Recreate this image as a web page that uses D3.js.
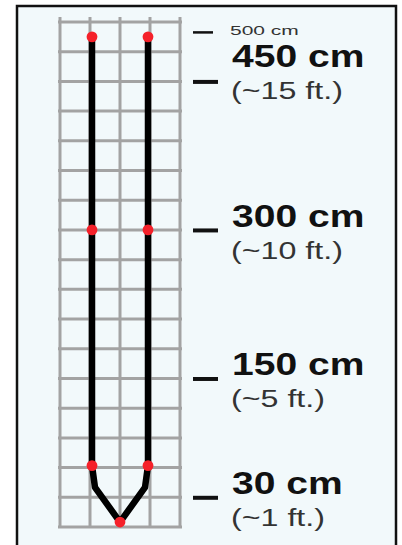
<!DOCTYPE html>
<html>
<head>
<meta charset="utf-8">
<script src="https://cdn.jsdelivr.net/npm/d3@7"></script>
<style>
  html, body { margin: 0; padding: 0; background: #ffffff; }
  svg { display: block; }
</style>
</head>
<body>
<svg id="chart" width="402" height="545"></svg>
<script>
// ---- data (cm) ----
const gridCols = [0, 30, 60, 90, 120];
const gridRows = [0, 30, 60, 90, 120, 150, 180, 210, 240, 270, 300, 330, 360, 390, 420, 450, 480, 510];

const pathX = [32, 32, 32, 35, 60, 85, 88, 88, 88];
const pathY = [495, 300, 62, 40, 5, 40, 62, 300, 495];

const dotX = [32, 32, 32, 60, 88, 88, 88];
const dotY = [495, 300, 62, 5, 62, 300, 495];

const tickValues = [500, 450, 300, 150, 30];
const mainLabels = ["500 cm", "450 cm", "300 cm", "150 cm", "30 cm"];
const subLabels  = ["", "(~15 ft.)", "(~10 ft.)", "(~5 ft.)", "(~1 ft.)"];

// ---- drawing ----
const svg = d3.select("#chart");

// frame
svg.append("rect")
  .attr("x", 17).attr("y", 6)
  .attr("width", 379).attr("height", 560)
  .attr("fill", "#f2f9fb")
  .attr("stroke", "#111").attr("stroke-width", 2.5);

const x = d3.scaleLinear().domain([0, 120]).range([60, 180]);
const y = d3.scaleLinear().domain([0, 510]).range([527, 22]);

// grid
const grid = svg.append("g").attr("stroke", "#a3a3a3").attr("stroke-width", 3);
grid.selectAll("line.v").data(gridCols).join("line")
  .attr("class", "v")
  .attr("x1", d => x(d)).attr("x2", d => x(d))
  .attr("y1", y(510) - 5).attr("y2", y(0) + 1);
grid.selectAll("line.h").data(gridRows).join("line")
  .attr("class", "h")
  .attr("x1", x(0) - 2).attr("x2", x(120) + 2)
  .attr("y1", d => y(d)).attr("y2", d => y(d));

// black line
const pts = pathX.map((d, i) => [d, pathY[i]]);
svg.append("path")
  .attr("d", d3.line().x(d => x(d[0])).y(d => y(d[1])).curve(d3.curveLinear)(pts))
  .attr("fill", "none")
  .attr("stroke", "#000")
  .attr("stroke-width", 6.5)
  .attr("stroke-linejoin", "round")
  .attr("stroke-linecap", "round");

// red dots
svg.selectAll("circle.dot").data(dotX.map((d, i) => [d, dotY[i]])).join("circle")
  .attr("class", "dot")
  .attr("cx", d => x(d[0])).attr("cy", d => y(d[1]))
  .attr("r", 5.4)
  .attr("fill", "#f5212a");

// axis ticks on the right
const axis = d3.axisRight(y).tickValues(tickValues).tickSize(24).tickFormat("");
const axG = svg.append("g").attr("transform", "translate(193,0)").call(axis);
axG.select(".domain").remove();
axG.selectAll(".tick line")
  .attr("stroke", "#111")
  .attr("stroke-width", d => d === 500 ? 2.5 : 4)
  .attr("x2", d => d === 500 ? 20 : 25);

// labels
function stretch(sel, factor) {
  sel.each(function () {
    const w = this.getComputedTextLength();
    d3.select(this).attr("textLength", w * factor).attr("lengthAdjust", "spacingAndGlyphs");
  });
}

const labels = svg.append("g");
tickValues.forEach((v, i) => {
  if (v === 500) {
    labels.append("text")
      .attr("x", 230).attr("y", y(v) + 3)
      .attr("font-family", "Liberation Sans, Arial, sans-serif")
      .attr("font-size", 12)
      .attr("fill", "#333")
      .text(mainLabels[i])
      .call(stretch, 1.75);
    return;
  }
  const base = y(v) + (v === 450 ? -14 : -3);
  labels.append("text")
    .attr("x", 232).attr("y", base)
    .attr("font-family", "Liberation Sans, Arial, sans-serif")
    .attr("font-weight", "bold")
    .attr("font-size", 32)
    .attr("fill", "#111")
    .text(mainLabels[i])
    .call(stretch, 1.22);
  labels.append("text")
    .attr("x", 231).attr("y", base + 32)
    .attr("font-family", "Liberation Sans, Arial, sans-serif")
    .attr("font-size", 23)
    .attr("fill", "#333")
    .text(subLabels[i])
    .call(stretch, 1.4);
});
</script>
</body>
</html>
